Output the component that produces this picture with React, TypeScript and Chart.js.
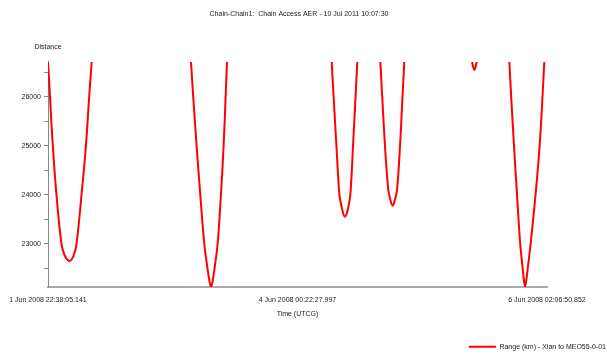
import React, { useEffect, useRef } from 'react';
import { Chart, registerables } from 'chart.js';

Chart.register(...registerables);

const chartTitle = 'Chain-Chain1:  Chain Access AER - 10 Jul 2011 10:07:30';
const yAxisTitle = 'Distance';
const xAxisTitle = 'Time (UTCG)';
const seriesLabel = 'Range (km) - Xian to MEO55-0-01';

// x in hours since 1 Jun 2008 22:38:05.141 UTCG
const xTickHours = [0, 49.73968, 99.47936];
const xTickLabels = ['1 Jun 2008 22:38:05.141', '4 Jun 2008 00:22:27.997', '6 Jun 2008 02:06:50.852'];

const yMin = 22124;
const yMax = 26707;
const yTicks = [22500, 23000, 23500, 24000, 24500, 25000, 25500, 26000, 26500];

const pass1Hours = [0, 0.4, 0.96, 1.69, 2.69, 3.29, 4.25, 5.08, 5.68, 6.68, 7.56, 8.21, 8.71];
const pass1Range = [26707, 26000, 25000, 24000, 23000, 22776, 22654, 22756, 23000, 24000, 25000, 26000, 26707];

const pass2Hours = [28.51, 28.95, 29.63, 30.36, 31.16, 31.78, 32.22, 32.5, 32.79, 33.21, 33.81, 34.47, 35.01, 35.41, 35.69];
const pass2Range = [26707, 26000, 25000, 24000, 23000, 22511, 22226, 22124, 22226, 22511, 23000, 24000, 25000, 26000, 26707];

const pass3Hours = [56.56, 56.94, 57.5, 58.1, 58.55, 58.88, 59.21, 59.54, 59.87, 60.27, 60.81, 61.31, 61.66];
const pass3Range = [26707, 26000, 25000, 24000, 23754, 23611, 23556, 23611, 23754, 24000, 25000, 26000, 26707];

const pass4Hours = [66.25, 66.63, 67.18, 67.84, 68.26, 68.72, 69.16, 69.58, 70.18, 70.67, 71.03];
const pass4Range = [26707, 26000, 25000, 24100, 23896, 23780, 23896, 24100, 25000, 26000, 26707];

const pass5Hours = [84.55, 84.75, 85.0, 85.25, 85.45];
const pass5Range = [26707, 26610, 26545, 26610, 26707];

const pass6Hours = [91.97, 92.34, 92.9, 93.5, 94.14, 94.62, 94.9, 95.1, 95.33, 95.65, 96.21, 97.19, 98.01, 98.58, 98.94];
const pass6Range = [26707, 26000, 25000, 24000, 23000, 22511, 22246, 22135, 22246, 22511, 23000, 24000, 25000, 26000, 26707];

const passes: [number[], number[]][] = [
  [pass1Hours, pass1Range],
  [pass2Hours, pass2Range],
  [pass3Hours, pass3Range],
  [pass4Hours, pass4Range],
  [pass5Hours, pass5Range],
  [pass6Hours, pass6Range],
];

function buildPoints() {
  const pts: { x: number; y: number | null }[] = [];
  passes.forEach(([hs, rs], i) => {
    if (i > 0) {
      const prev = passes[i - 1][0];
      pts.push({ x: (prev[prev.length - 1] + hs[0]) / 2, y: null });
    }
    hs.forEach((h, j) => pts.push({ x: h, y: rs[j] }));
  });
  return pts;
}

const FONT = '"Liberation Sans", Arial, sans-serif';
const TEXT = '#222222';

export default function App() {
  const ref = useRef<HTMLCanvasElement>(null);
  useEffect(() => {
    if (!ref.current) return;
    Chart.defaults.font.family = FONT;
    const distancePlugin = {
      id: 'distanceTitle',
      afterDraw(chart: any) {
        const { ctx, chartArea } = chart;
        ctx.save();
        ctx.font = `7px ${FONT}`;
        ctx.fillStyle = TEXT;
        ctx.textAlign = 'center';
        ctx.textBaseline = 'middle';
        ctx.fillText(yAxisTitle, chartArea.left, chartArea.top - 15);
        ctx.restore();
      },
    };
    const chart = new Chart(ref.current, {
      type: 'line',
      data: {
        datasets: [
          {
            label: seriesLabel,
            data: buildPoints() as any,
            borderColor: 'rgb(255,0,0)',
            backgroundColor: 'rgb(255,0,0)',
            borderWidth: 2,
            pointRadius: 0,
            tension: 0.4,
            spanGaps: false,
            fill: false,
          },
        ],
      },
      options: {
        responsive: false,
        animation: false,
        devicePixelRatio: 1,
        parsing: false as any,
        layout: { padding: { left: -9, right: 0, top: 0, bottom: -6.25 } },
        plugins: {
          title: {
            display: true,
            text: chartTitle,
            color: TEXT,
            font: { size: 7, weight: 'normal' as any },
            padding: { top: 9.8, bottom: 43.8 },
          },
          legend: {
            display: true,
            position: 'bottom',
            align: 'end',
            labels: {
              boxWidth: 27,
              boxHeight: 2,
              padding: 1,
              color: TEXT,
              font: { size: 7 },
              generateLabels: (c: any) =>
                (Chart.defaults.plugins.legend.labels as any)
                  .generateLabels(c)
                  .map((l: any) => ({ ...l, lineWidth: 0, fillStyle: 'rgb(255,0,0)' })),
            },
          },
          tooltip: { enabled: false },
        },
        scales: {
          x: {
            type: 'linear',
            min: xTickHours[0],
            max: xTickHours[2],
            afterBuildTicks: (s: any) => {
              s.ticks = xTickHours.map((v) => ({ value: v }));
            },
            afterFit: (s: any) => {
              s.height = 55.25;
            },
            ticks: {
              autoSkip: false,
              maxRotation: 0,
              padding: 9,
              color: TEXT,
              font: { size: 7 },
              callback: (_v: any, i: number) => xTickLabels[i],
            },
            grid: { display: false, drawTicks: false },
            border: { display: true, color: '#aaaaaa', width: 2 },
            title: {
              display: true,
              text: xAxisTitle,
              color: TEXT,
              font: { size: 7 },
              padding: { top: 0, bottom: 24.05 },
            },
          },
          y: {
            type: 'linear',
            min: yMin,
            max: yMax,
            afterBuildTicks: (s: any) => {
              s.ticks = yTicks.map((v) => ({ value: v }));
            },
            afterFit: (s: any) => {
              s.width = 57;
            },
            ticks: {
              padding: 3,
              color: TEXT,
              font: { size: 7 },
              callback: (v: any) => (Number(v) % 1000 === 0 ? String(v) : ''),
            },
            grid: { display: true, drawOnChartArea: false, drawTicks: true, tickLength: 4, color: '#888888' },
            border: { display: true, color: '#888888', width: 1 },
          },
          yRight: {
            type: 'linear',
            position: 'right',
            display: true,
            afterFit: (s: any) => {
              s.width = 60;
            },
            grid: { display: false },
            ticks: { display: false },
            border: { display: false },
          },
        },
      },
      plugins: [distancePlugin],
    });
    return () => chart.destroy();
  }, []);
  return (
    <div style={{ position: 'fixed', left: 0, top: 0, width: 607, height: 354, background: '#ffffff' }}>
      <canvas ref={ref} width={607} height={354} style={{ display: 'block', width: 607, height: 354 }} />
    </div>
  );
}
